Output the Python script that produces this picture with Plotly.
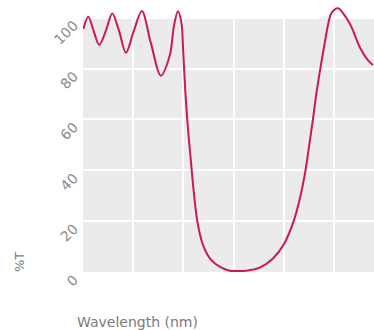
import plotly.graph_objects as go

wavelength = [300.6, 310.5, 320.9, 332.4, 345.8, 358.3, 371.6, 385.6, 401.5, 417.4,
              435.3, 455.2, 473.1, 481.1, 489.2, 496.4, 499.6, 503.0, 506.4, 510.9,
              514.9, 519.5, 527.8, 539.4, 556.1, 576.0, 592.5, 609.0, 625.8, 652.2,
              678.7, 700.6, 719.9, 731.8, 741.8, 751.7, 758.3, 765.0, 773.0, 781.6,
              788.2, 794.9, 808.0, 831.3, 851.2, 867.8, 877.7]
transmission = [95.6, 100.4, 95.0, 89.3, 95.0, 101.7, 95.0, 86.2, 95.0, 102.6,
                90.0, 77.2, 85.3, 96.5, 102.5, 97.8, 87.3, 74.2, 63.7, 52.5,
                44.0, 34.0, 20.0, 10.5, 4.6, 1.7, 0.5, 0.4, 0.5, 1.7,
                5.3, 11.0, 20.0, 28.5, 38.0, 51.0, 60.0, 70.0, 80.0, 89.9,
                97.0, 101.7, 103.7, 97.8, 88.6, 83.3, 81.4]

y_ticks = [0, 20, 40, 60, 80, 100]
x_grid = [300, 400, 500, 600, 700, 800]

fig = go.Figure()
fig.add_shape(type="rect", xref="paper", yref="y", x0=0, x1=1, y0=0, y1=100,
              fillcolor="#ebebeb", line_width=0, layer="below")
fig.add_trace(go.Scatter(x=wavelength, y=transmission, mode="lines",
                         line=dict(color="#cc1853", width=2, shape="spline", smoothing=0.9),
                         hoverinfo="skip", showlegend=False))

font_family = "DejaVu Sans, Lato, sans-serif"
fig.update_layout(
    width=374, height=330,
    margin=dict(l=83, r=0, t=5, b=58),
    paper_bgcolor="white", plot_bgcolor="white",
    xaxis=dict(range=[300, 880], tickvals=x_grid, showticklabels=False,
               showgrid=True, gridcolor="white", gridwidth=1.5, zeroline=False,
               ticks="", showline=False),
    yaxis=dict(range=[0, 105], tickvals=y_ticks, ticktext=[str(v) for v in y_ticks],
               showgrid=True, gridcolor="white", gridwidth=1.5, zeroline=False,
               ticks="", showline=False, tickangle=-45,
               ticklabelstandoff=8, ticklabelshift=6,
               tickfont=dict(family=font_family, size=14, color="#8a8a8a")),
    font=dict(family=font_family, color="#7a7a7a"),
    annotations=[
        dict(text="Wavelength (nm)", xref="paper", yref="paper",
             x=-8/291, y=-50/266.7, xanchor="left", yanchor="middle",
             showarrow=False, font=dict(size=14, color="#7a7a7a")),
        dict(text="%T", xref="paper", yref="paper",
             x=-63/291, y=10/266.7, xanchor="center", yanchor="middle",
             textangle=-90, showarrow=False, font=dict(size=13, color="#7a7a7a")),
    ],
)

fig.write_html("out.html", config={"displayModeBar": False},
               post_script="document.body.style.margin='0';")
